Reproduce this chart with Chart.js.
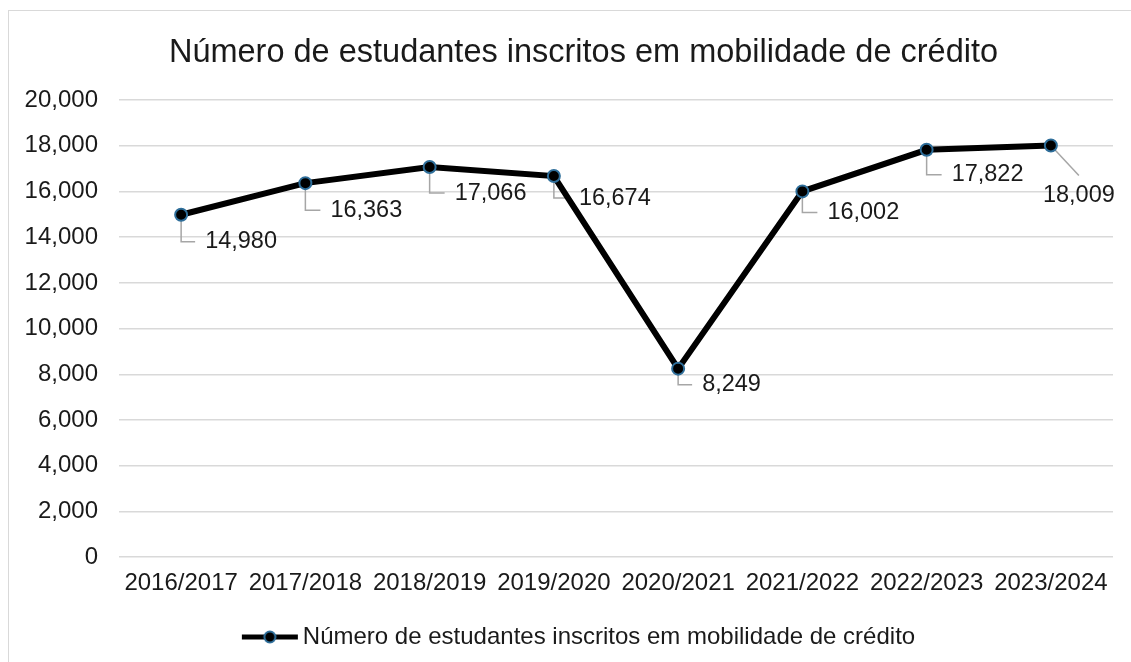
<!DOCTYPE html>
<html>
<head>
<meta charset="utf-8">
<script src="https://cdn.jsdelivr.net/npm/chart.js@4/dist/chart.umd.min.js"></script>
<style>
    html, body { margin: 0; padding: 0; background: #fff; }
    #frame {
        position: absolute; left: 8px; top: 10px;
        width: 1200px; height: 700px;
        border: 1px solid #d9d9d9;
    }
    #wrap { position: absolute; left: 0; top: 0; width: 1131px; height: 662px; }
</style>
</head>
<body>
<div id="frame"></div>
<div id="wrap"><canvas id="chart" width="1131" height="662"></canvas></div>
<script>
// Dados do gráfico
const anos = ['2016/2017', '2017/2018', '2018/2019', '2019/2020', '2020/2021', '2021/2022', '2022/2023', '2023/2024'];
const inscritos = [14980, 16363, 17066, 16674, 8249, 16002, 17822, 18009];
const serieNome = 'Número de estudantes inscritos em mobilidade de crédito';
const titulo = 'Número de estudantes inscritos em mobilidade de crédito';

const FONT = "'Liberation Sans', Arial, sans-serif";
const TEXTO = '#1a1a1a';

// posição dos rótulos (dx, dy relativos ao ponto; diag = rótulo por baixo)
const rotulos = [
    { dx: 24, dy: 27 },
    { dx: 25, dy: 27 },
    { dx: 25, dy: 26 },
    { dx: 25, dy: 22 },
    { dx: 24, dy: 16 },
    { dx: 25, dy: 21 },
    { dx: 25, dy: 25 },
    { dx: 28, dy: 50, diag: true }
];

// símbolo da legenda: linha com marcador
function simboloLegenda() {
    const c = document.createElement('canvas');
    c.width = 58; c.height = 16;
    const g = c.getContext('2d');
    g.strokeStyle = '#000';
    g.lineWidth = 5;
    g.beginPath(); g.moveTo(1, 8); g.lineTo(57, 8); g.stroke();
    g.beginPath(); g.arc(29, 8, 5.5, 0, Math.PI * 2);
    g.fillStyle = '#000'; g.fill();
    g.lineWidth = 2; g.strokeStyle = '#2e6e9a'; g.stroke();
    return c;
}

// linhas de chamada e rótulos de dados
const rotulosPlugin = {
    id: 'rotulos',
    afterLayout(chart) {
        // título e legenda ligeiramente à direita, como no original
        chart.titleBlock.left += 30;
        chart.legend.left += 27;
    },
    beforeDatasetsDraw(chart) {
        const ctx = chart.ctx;
        const meta = chart.getDatasetMeta(0);
        ctx.save();
        ctx.strokeStyle = '#a6a6a6';
        ctx.lineWidth = 1.5;
        meta.data.forEach((p, i) => {
            const r = rotulos[i];
            ctx.beginPath();
            if (r.diag) {
                ctx.moveTo(p.x, p.y);
                ctx.lineTo(p.x + r.dx, p.y + r.dy - 20);
            } else {
                ctx.moveTo(p.x, p.y);
                ctx.lineTo(p.x, p.y + r.dy);
                ctx.lineTo(p.x + r.dx - 10, p.y + r.dy);
            }
            ctx.stroke();
        });
        ctx.restore();
    },
    afterDatasetsDraw(chart) {
        const ctx = chart.ctx;
        const meta = chart.getDatasetMeta(0);
        ctx.save();
        ctx.font = '23.5px ' + FONT;
        ctx.fillStyle = TEXTO;
        ctx.textBaseline = 'middle';
        meta.data.forEach((p, i) => {
            const r = rotulos[i];
            const txt = inscritos[i].toLocaleString('en-US');
            ctx.textAlign = r.diag ? 'center' : 'left';
            ctx.fillText(txt, p.x + r.dx, p.y + r.dy);
        });
        ctx.restore();
    }
};

new Chart(document.getElementById('chart').getContext('2d'), {
    type: 'line',
    data: {
        labels: anos,
        datasets: [{
            label: serieNome,
            data: inscritos,
            borderColor: '#000',
            borderWidth: 6,
            backgroundColor: '#000',
            pointRadius: 6,
            pointBorderWidth: 2,
            pointBackgroundColor: '#000',
            pointBorderColor: '#2e6e9a',
            tension: 0
        }]
    },
    options: {
        responsive: false,
        animation: false,
        layout: { padding: { left: 24, right: 18, top: 20, bottom: 3 } },
        scales: {
            x: {
                offset: true,
                grid: { display: false, drawTicks: false },
                border: { display: false },
                ticks: { color: TEXTO, font: { family: FONT, size: 24 }, padding: 12, maxRotation: 0, autoSkip: false }
            },
            y: {
                min: 0,
                max: 20000,
                grid: { color: '#d9d9d9', lineWidth: 1.5, drawTicks: false },
                border: { display: false },
                afterFit: s => { s.width = 95; },
                ticks: {
                    stepSize: 2000,
                    color: TEXTO,
                    font: { family: FONT, size: 24 },
                    padding: 21,
                    callback: v => v.toLocaleString('en-US')
                }
            }
        },
        plugins: {
            title: {
                display: true,
                text: titulo,
                color: TEXTO,
                font: { family: FONT, size: 32.5, weight: 'normal' },
                padding: { top: 14, bottom: 27 }
            },
            legend: {
                position: 'bottom',
                labels: {
                    usePointStyle: true,
                    pointStyle: simboloLegenda(),
                    pointStyleWidth: 42,
                    color: TEXTO,
                    font: { family: FONT, size: 24 },
                    padding: 15
                }
            },
            tooltip: { enabled: false }
        }
    },
    plugins: [rotulosPlugin]
});
</script>
</body>
</html>
